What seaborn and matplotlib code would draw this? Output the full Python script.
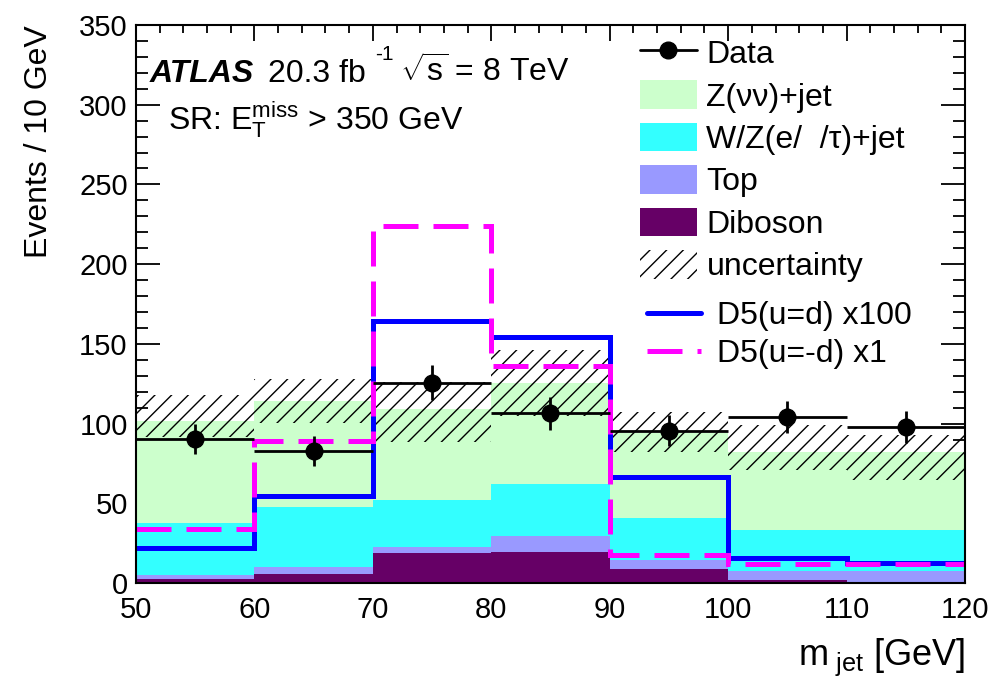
import matplotlib
matplotlib.use("Agg")
import matplotlib.pyplot as plt
from matplotlib.lines import Line2D
from matplotlib.patches import Patch
from matplotlib.ticker import MultipleLocator
import numpy as np
import pandas as pd
import seaborn as sns

# bin edges of m_jet [GeV]
edges = [50, 60, 70, 80, 90, 100, 110, 120]
centers = [55, 65, 75, 85, 95, 105, 115]

# background components (events / 10 GeV)
diboson = [2.3, 5.4, 18.6, 19.2, 8.6, 2.0, 0.8]
top = [2.7, 4.4, 3.8, 10.3, 5.8, 5.7, 6.9]
wz_lep = [32.4, 38.1, 29.6, 32.6, 26.6, 25.5, 25.3]
z_nunu = [64.2, 66.3, 57.0, 63.2, 52.9, 49.2, 49.4]

# uncertainty band edges
band_lo = [91.8, 100.2, 88.7, 105.0, 82.4, 70.9, 64.6]
band_hi = [117.9, 127.8, 126.3, 146.0, 107.5, 99.1, 92.8]

# data
data = [90.3, 82.8, 125.7, 106.5, 95.5, 104.0, 97.7]
data_err = [9.5, 9.1, 11.2, 10.3, 9.8, 10.2, 9.9]

# signals
d5_same = [21.8, 54.6, 164.5, 154.5, 66.7, 15.9, 12.5]
d5_opp = [33.9, 89.0, 224.0, 136.0, 17.6, 11.9, 11.9]

labels = ["Z(\u03bd\u03bd)+jet", "W/Z(e/  /\u03c4)+jet", "Top", "Diboson"]
colors = ["#ccffcc", "#33ffff", "#9999ff", "#660066"]

sns.set_style("ticks")
plt.rcParams["font.family"] = ["Liberation Sans", "DejaVu Sans"]
plt.rcParams["mathtext.fontset"] = "custom"
plt.rcParams["mathtext.rm"] = "Liberation Sans"
plt.rcParams["mathtext.it"] = "Liberation Sans:italic"
plt.rcParams["hatch.linewidth"] = 1.0
for key in ["text.color", "axes.labelcolor", "xtick.color", "ytick.color", "axes.edgecolor"]:
    plt.rcParams[key] = "black"

rows = []
for name, vals in zip(labels, [z_nunu, wz_lep, top, diboson]):
    for c, v in zip(centers, vals):
        rows.append({"mjet": c, "w": v, "process": name})
df = pd.DataFrame(rows)

fig = plt.figure(figsize=(9.94, 6.83), dpi=100)
ax = fig.add_axes([136 / 994, 1 - 583 / 683, 829 / 994, 558 / 683])

sns.histplot(data=df, x="mjet", weights="w", hue="process", hue_order=labels,
             palette=colors, bins=edges, multiple="stack", element="bars",
             fill=True, alpha=1, linewidth=0, legend=False, ax=ax)

# uncertainty hatch
lo = np.array(band_lo)
hi = np.array(band_hi)
ax.bar(centers, hi - lo, bottom=lo, width=10, fill=False, hatch="//",
       linewidth=0, edgecolor="black")

ax.stairs(d5_same, edges, baseline=None, color="#0000ff", linewidth=3.6)
ax.stairs(d5_opp, edges, baseline=None, color="#ff00ff", linewidth=3.6,
          linestyle=(0, (7, 3)))

ax.errorbar(centers, data, yerr=data_err, xerr=5, fmt="o", color="black",
            markersize=12, elinewidth=2, capsize=0)

ax.set_xlim(50, 120)
ax.set_ylim(0, 350)
ax.xaxis.set_major_locator(MultipleLocator(10))
ax.xaxis.set_minor_locator(MultipleLocator(2))
ax.yaxis.set_major_locator(MultipleLocator(50))
ax.yaxis.set_minor_locator(MultipleLocator(10))
ax.tick_params(axis="both", which="both", direction="in", top=True, right=True,
               labelsize=21, width=1.3)
ax.tick_params(axis="x", which="major", length=11.5, pad=9.5)
ax.tick_params(axis="x", which="minor", length=5.8)
ax.tick_params(axis="y", which="major", length=17, pad=6)
ax.tick_params(axis="y", which="minor", length=8.6)
for sp in ax.spines.values():
    sp.set_linewidth(1.5)

ax.set_xlabel(r"m$_{\ \rm jet}$ [GeV]", fontsize=26, loc="right", labelpad=9)
ax.set_ylabel("Events / 10 GeV", fontsize=23, loc="top", labelpad=18)

ax.text(0.017, 0.898, "ATLAS", transform=ax.transAxes, fontsize=23,
        fontweight="bold", fontstyle="italic")
ax.text(0.159, 0.898, "20.3 fb", transform=ax.transAxes, fontsize=23)
ax.text(0.289, 0.938, "-1", transform=ax.transAxes, fontsize=15)
ax.text(0.318, 0.898, r"$\sqrt{\rm s}$ = 8 TeV", transform=ax.transAxes, fontsize=23)
ax.text(0.039, 0.812, r"SR: E$_{\rm T}^{\rm miss}$ > 350 GeV",
        transform=ax.transAxes, fontsize=23)

handles1 = [Line2D([], [], color="black", marker="o", markersize=12, linewidth=2)]
handles1 += [Patch(facecolor=c, edgecolor="none") for c in colors]
handles1.append(Patch(facecolor="none", edgecolor="black", hatch="//", linewidth=0))
leg1 = ax.legend(handles1, ["Data"] + labels + ["uncertainty"],
                 loc="upper left", bbox_to_anchor=(0.608, 0.977), frameon=False,
                 fontsize=23, borderpad=0, handlelength=1.78, handleheight=1.0,
                 handletextpad=0.3, labelspacing=0.32, borderaxespad=0)
ax.add_artist(leg1)

handles2 = [Line2D([], [], color="#0000ff", linewidth=3.6),
            Line2D([], [], color="#ff00ff", linewidth=3.6, linestyle=(0, (7, 3)))]
ax.legend(handles2, ["D5(u=d) x100", "D5(u=-d) x1"], loc="upper left",
          bbox_to_anchor=(0.616, 0.505), frameon=False, fontsize=23, borderpad=0,
          handlelength=1.7, handletextpad=0.5, labelspacing=0.25, borderaxespad=0)

fig.savefig("out.png", dpi=100)
